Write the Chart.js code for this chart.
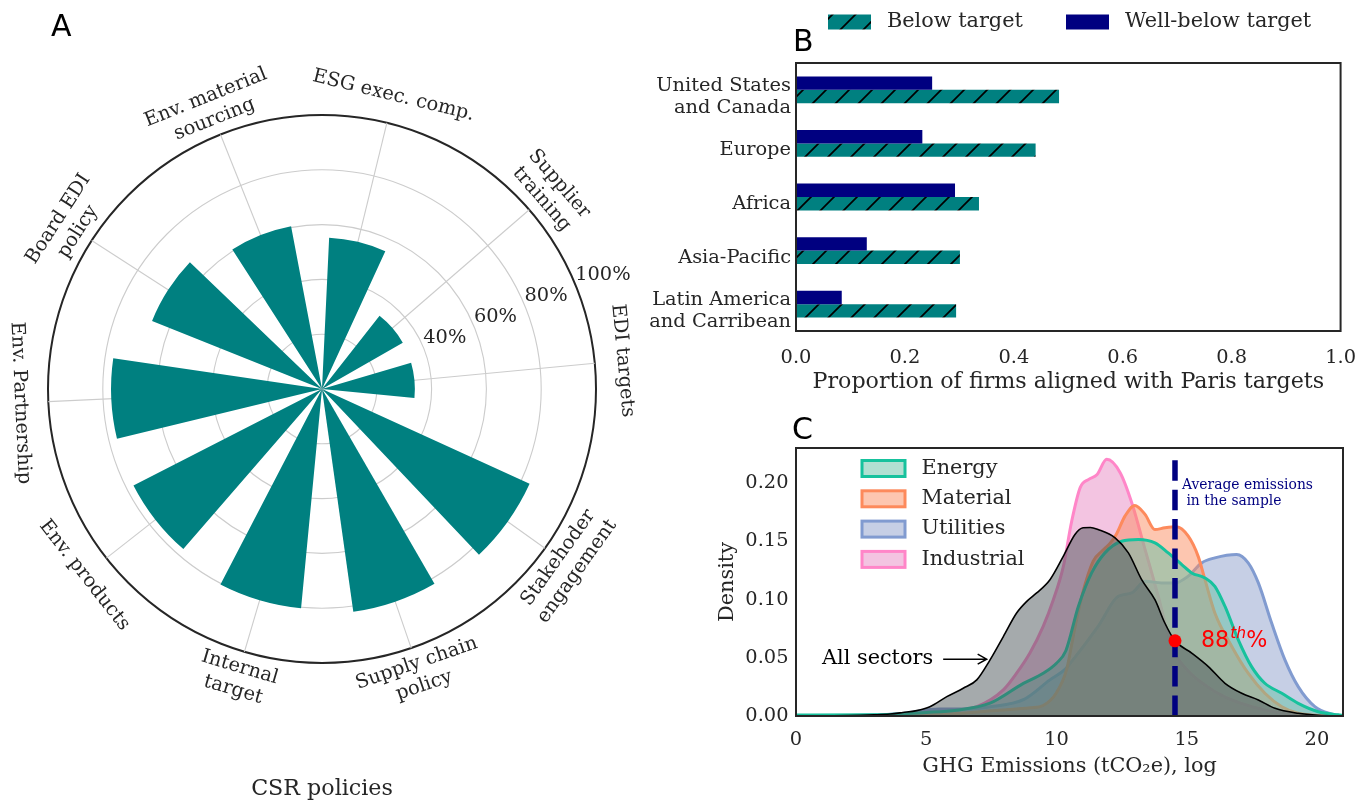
<!DOCTYPE html>
<html>
<head>
<meta charset="utf-8">
<script src="https://cdn.jsdelivr.net/npm/chart.js@4.4.1/dist/chart.umd.min.js"></script>
<style>
  html, body { margin: 0; padding: 0; background: #ffffff; }
  body { width: 1371px; height: 802px; position: relative; overflow: hidden; }
  canvas { position: absolute; }
  #polar { left: 0; top: 0; }
  #bars { left: 640px; top: 0; }
  #density { left: 640px; top: 410px; }
</style>
</head>
<body>
<canvas id="polar" width="660" height="802"></canvas>
<canvas id="bars" width="731" height="410"></canvas>
<canvas id="density" width="731" height="392"></canvas>
<script>
// ---------------- Panel A: adoption of CSR policies (% of firms) ----------------
const policyNames = [
  'EDI targets', 'Supplier\ntraining', 'ESG exec. comp.', 'Env. material\nsourcing',
  'Board EDI\npolicy', 'Env. Partnership', 'Env. products', 'Internal\ntarget',
  'Supply chain\npolicy', 'Stakehoder\nengagement'
];
const policyShare = [33.9, 34.0, 55.3, 60.5, 66.8, 77.0, 77.3, 80.4, 82.1, 83.3];
const ringValues = [20, 40, 60, 80, 100];
const ringLabels = ['', '40%', '60%', '80%', '100%'];

// ---------------- Panel B: alignment with Paris targets ----------------
const regions = ['United States\nand Canada', 'Europe', 'Africa', 'Asia-Pacific', 'Latin America\nand Carribean'];
const belowTarget = [0.483, 0.440, 0.336, 0.301, 0.294];
const wellBelowTarget = [0.250, 0.232, 0.292, 0.130, 0.084];

// ---------------- Panel C: GHG emission densities ----------------
const allSectorsX = [0, 2, 3, 3.61, 4.1, 4.63, 5.14, 5.79, 6.42, 6.94, 7.45, 7.96, 8.47, 8.86, 9.24, 9.75, 10.26, 10.71, 11.02, 11.3, 11.6, 12.25, 12.76, 13.27, 13.78, 14.16, 14.55, 15.19, 15.83, 16.47, 17.11, 17.75, 18.39, 19.28, 20.05, 21];
const allSectorsY = [0, 0.0003, 0.001, 0.0017, 0.003, 0.0046, 0.008, 0.0166, 0.0238, 0.031, 0.0482, 0.0682, 0.0884, 0.0984, 0.1056, 0.117, 0.137, 0.1558, 0.1615, 0.1618, 0.160, 0.1529, 0.140, 0.117, 0.0998, 0.0798, 0.0645, 0.054, 0.0424, 0.0281, 0.0195, 0.0138, 0.0066, 0.0023, 0.0006, 0];

const energyX = [0, 3, 5, 6.17, 7.45, 8.73, 9.49, 10.0, 10.36, 10.84, 11.35, 11.86, 12.5, 13.14, 13.78, 14.29, 14.81, 15.19, 15.70, 16.08, 16.47, 16.98, 17.49, 18.0, 18.65, 19.28, 20.05, 20.82, 21];
const energyY = [0.0008, 0.001, 0.003, 0.005, 0.011, 0.028, 0.0367, 0.0453, 0.056, 0.094, 0.1228, 0.14, 0.15, 0.1515, 0.1486, 0.14, 0.13, 0.1228, 0.1185, 0.1113, 0.094, 0.0654, 0.0424, 0.0281, 0.0195, 0.0109, 0.0037, 0.001, 0.0005];

const materialX = [0, 4, 6, 7.8, 9, 9.49, 10.0, 10.39, 10.7, 11.0, 11.41, 11.74, 12.07, 12.3, 12.63, 13.01, 13.40, 13.78, 14.16, 14.61, 15.06, 15.44, 15.70, 16.08, 16.73, 17.36, 18.0, 18.65, 19.28, 20, 21];
const materialY = [0, 0.0005, 0.002, 0.005, 0.007, 0.009, 0.02, 0.04, 0.075, 0.105, 0.133, 0.1414, 0.1486, 0.156, 0.1715, 0.1807, 0.173, 0.160, 0.1615, 0.1624, 0.1543, 0.137, 0.117, 0.0884, 0.0597, 0.0367, 0.0195, 0.008, 0.0023, 0.0005, 0];

const utilitiesX = [0, 4, 5.5, 6.5, 7.45, 8.73, 9.75, 10.33, 10.52, 11.6, 12.37, 12.89, 13.4, 14.04, 14.55, 15.06, 15.57, 16.08, 16.92, 17.36, 17.75, 18.26, 18.77, 19.28, 19.92, 20.56, 21];
const utilitiesY = [0, 0.002, 0.006, 0.006, 0.008, 0.014, 0.031, 0.04, 0.045, 0.077, 0.1027, 0.1056, 0.1156, 0.1142, 0.1142, 0.12, 0.1314, 0.1357, 0.1386, 0.1314, 0.1142, 0.0798, 0.0482, 0.0252, 0.008, 0.0017, 0];

const industrialX = [0, 3, 4, 5, 5.7, 6.94, 7.96, 8.47, 8.98, 9.49, 9.88, 10.26, 10.58, 10.91, 11.24, 11.55, 11.93, 12.44, 12.89, 13.40, 13.91, 14.42, 15.0, 15.8, 16.5, 17.5, 18.5, 19.5, 21];
const industrialY = [0, 0.0005, 0.001, 0.003, 0.004, 0.008, 0.0224, 0.0367, 0.054, 0.0769, 0.0998, 0.128, 0.1667, 0.196, 0.2031, 0.207, 0.2203, 0.209, 0.183, 0.143, 0.1027, 0.0597, 0.04, 0.025, 0.016, 0.008, 0.003, 0.001, 0];

const averageEmissions = 14.55;     // log tCO2e
const averageDensity = 0.0645;      // all-sectors density at the average
const averagePercentile = '88';

// ---------------- shared styling ----------------
const SERIF = "'DejaVu Serif', serif";
const SANS = "'DejaVu Sans', sans-serif";
const INK = '#262626';
const TEAL = '#008080';
const NAVY = '#000080';
Chart.defaults.font.family = SERIF;
Chart.defaults.color = INK;
Chart.defaults.animation = false;

function pairs(xs, ys) { return xs.map((x, i) => ({ x, y: ys[i] })); }

function panelLetter(ctx, letter, x, y) {
  ctx.save();
  ctx.font = '30px ' + SANS;
  ctx.fillStyle = '#000';
  ctx.textAlign = 'left';
  ctx.textBaseline = 'alphabetic';
  ctx.fillText(letter, x, y);
  ctx.restore();
}

function frame(ctx, area) {
  ctx.save();
  ctx.strokeStyle = INK;
  ctx.lineWidth = 2;
  ctx.strokeRect(area.left, area.top, area.right - area.left, area.bottom - area.top);
  ctx.restore();
}

// ================= Panel A =================
// spokes sit at the bar centres, counter-clockwise from the east
const spokeStart = 5.4, spokeStep = 35.45, barSpan = 22;
const spokeAngles = policyNames.map((_, i) => spokeStart + i * spokeStep);

// Chart.js sweeps clockwise, so walk the policies in reverse angular order
const sweep = [0].concat(policyNames.map((_, i) => i).slice(1).reverse());
const c0 = -spokeAngles[0];
const sweepCentres = sweep.map(k => c0 + (((-spokeAngles[k] - c0) % 360) + 360) % 360);
const arcValues = [], arcSpans = [], arcColors = [], arcLabels = [];
sweep.forEach((k, j) => {
  arcValues.push(policyShare[k]); arcSpans.push(barSpan); arcColors.push(TEAL); arcLabels.push(policyNames[k]);
  const next = j < sweep.length - 1 ? sweepCentres[j + 1] : sweepCentres[0] + 360;
  arcValues.push(0); arcSpans.push(next - sweepCentres[j] - barSpan); arcColors.push('rgba(0,0,0,0)'); arcLabels.push('');
});

const polarDecor = {
  id: 'polarDecor',
  beforeDatasetsDraw(chart) {
    const r = chart.scales.r, ctx = chart.ctx;
    const R = r.getDistanceFromCenterForValue(100);
    ctx.save();
    ctx.strokeStyle = '#cccccc';
    ctx.lineWidth = 1.1;
    spokeAngles.forEach(a => {
      const t = -a * Math.PI / 180;
      ctx.beginPath();
      ctx.moveTo(r.xCenter, r.yCenter);
      ctx.lineTo(r.xCenter + R * Math.cos(t), r.yCenter + R * Math.sin(t));
      ctx.stroke();
    });
    ctx.restore();
  },
  afterDraw(chart) {
    const r = chart.scales.r, ctx = chart.ctx;
    const R = r.getDistanceFromCenterForValue(100);
    ctx.save();
    ctx.fillStyle = INK;
    ctx.font = '19.4px ' + SERIF;
    // policy names around the rim, tangent to the circle
    const lh = 23.3;
    policyNames.forEach((name, i) => {
      const a = spokeAngles[i];
      const t = a * Math.PI / 180;
      const x = r.xCenter + (R + 28) * Math.cos(t);
      const y = r.yCenter - (R + 28) * Math.sin(t);
      const rot = a <= 180 ? a - 90 : a + 90;
      const lines = name.split('\n');
      ctx.save();
      ctx.translate(x, y);
      ctx.rotate(-rot * Math.PI / 180);
      ctx.textAlign = 'center';
      ctx.textBaseline = 'middle';
      lines.forEach((ln, li) => ctx.fillText(ln, 0, (li - (lines.length - 1) / 2) * lh));
      ctx.restore();
    });
    // radial tick labels along 22.5 degrees
    ctx.textAlign = 'left';
    ctx.textBaseline = 'bottom';
    const tl = 22.5 * Math.PI / 180;
    ringValues.forEach((v, i) => {
      if (!ringLabels[i]) return;
      const d = r.getDistanceFromCenterForValue(v);
      ctx.fillText(ringLabels[i], r.xCenter + d * Math.cos(tl), r.yCenter - d * Math.sin(tl) + 1);
    });
    // axis caption
    ctx.font = '22.2px ' + SERIF;
    ctx.textAlign = 'center';
    ctx.textBaseline = 'middle';
    ctx.fillText('CSR policies', r.xCenter, 789);
    ctx.restore();
    panelLetter(ctx, 'A', 51, 36);
  }
};

new Chart(document.getElementById('polar'), {
  type: 'polarArea',
  data: {
    labels: arcLabels,
    datasets: [{
      data: arcValues,
      backgroundColor: arcColors,
      borderWidth: 0,
      angle: ctx => arcSpans[ctx.dataIndex]
    }]
  },
  options: {
    responsive: false,
    devicePixelRatio: 1,
    animation: false,
    layout: { padding: { left: 48, top: 115, right: 64, bottom: 139 } },
    plugins: { legend: { display: false }, tooltip: { enabled: false } },
    scales: {
      r: {
        min: 0, max: 100,
        startAngle: sweepCentres[0] - barSpan / 2 + 90,
        ticks: { display: false, stepSize: 20 },
        grid: {
          circular: true,
          color: c => (c.tick && c.tick.value === 100) ? INK : '#cccccc',
          lineWidth: c => (c.tick && c.tick.value === 100) ? 2 : 1.1
        },
        angleLines: { display: false },
        pointLabels: { display: false }
      }
    }
  },
  plugins: [polarDecor]
});

// ================= Panel B =================
function makeHatch(ctx, bg, ink) {
  const s = 23;
  const c = document.createElement('canvas');
  c.width = s; c.height = s;
  const g = c.getContext('2d');
  g.fillStyle = bg;
  g.fillRect(0, 0, s, s);
  g.strokeStyle = ink;
  g.lineWidth = 1.7;
  g.beginPath();
  g.moveTo(-2, s + 2); g.lineTo(s + 2, -2);
  g.moveTo(-3, 3); g.lineTo(3, -3);
  g.moveTo(s - 3, s + 3); g.lineTo(s + 3, s - 3);
  g.stroke();
  return ctx.createPattern(c, 'repeat');
}
const barsCanvas = document.getElementById('bars');
const hatchTeal = makeHatch(barsCanvas.getContext('2d'), TEAL, '#000000');

const barDecor = {
  id: 'barDecor',
  afterDraw(chart) {
    const ctx = chart.ctx;
    frame(ctx, chart.chartArea);
    // legend across the top, listed Below → Well-below
    const items = chart.data.datasets.slice().reverse();
    const slots = [188, 426];
    ctx.save();
    ctx.font = '20.8px ' + SERIF;
    ctx.textAlign = 'left';
    ctx.textBaseline = 'middle';
    items.forEach((ds, i) => {
      ctx.fillStyle = ds.backgroundColor;
      ctx.fillRect(slots[i], 14.5, 43, 15);
      ctx.fillStyle = INK;
      ctx.fillText(ds.label, slots[i] + 59, 21.5);
    });
    ctx.restore();
    panelLetter(ctx, 'B', 153, 51);
  }
};

new Chart(barsCanvas, {
  type: 'bar',
  data: {
    labels: regions.map(r => r.split('\n')),
    datasets: [
      { label: 'Well-below target', data: wellBelowTarget, backgroundColor: NAVY, borderWidth: 0, categoryPercentage: 0.5, barPercentage: 1.0 },
      { label: 'Below target', data: belowTarget, backgroundColor: hatchTeal, borderWidth: 0, categoryPercentage: 0.5, barPercentage: 1.0 }
    ]
  },
  options: {
    indexAxis: 'y',
    responsive: false,
    devicePixelRatio: 1,
    animation: false,
    layout: { padding: { left: 0, top: 63, right: 28, bottom: 0 } },
    plugins: { legend: { display: false }, tooltip: { enabled: false } },
    scales: {
      x: {
        min: 0, max: 1,
        grid: { display: false, drawTicks: false },
        border: { display: false },
        ticks: { stepSize: 0.2, padding: 15, autoSkip: false, maxRotation: 0, font: { size: 19.4 }, callback: v => Number(v).toFixed(1) },
        title: { display: true, text: 'Proportion of firms aligned with Paris targets', font: { size: 22.2 }, padding: { top: 0, bottom: 14 } },
        afterFit: s => { s.height = 79; }
      },
      y: {
        grid: { display: false, drawTicks: false },
        border: { display: false },
        ticks: { padding: 5, labelOffset: 7, autoSkip: false, font: { size: 19.4, lineHeight: 1.12 } },
        afterFit: s => { s.width = 156; }
      }
    }
  },
  plugins: [barDecor]
});

// ================= Panel C =================
const sectorStyles = [
  { label: 'Energy',     line: '#17c29d', fill: 'rgba(102,194,165,0.5)', xs: energyX, ys: energyY },
  { label: 'Material',   line: '#fd8a5c', fill: 'rgba(252,141,98,0.5)',  xs: materialX, ys: materialY },
  { label: 'Utilities',  line: '#819bd0', fill: 'rgba(141,160,203,0.5)', xs: utilitiesX, ys: utilitiesY },
  { label: 'Industrial', line: '#ff86c8', fill: 'rgba(231,138,195,0.5)', xs: industrialX, ys: industrialY }
];

const densityDecor = {
  id: 'densityDecor',
  afterDraw(chart) {
    const ctx = chart.ctx, xs = chart.scales.x, ys = chart.scales.y;
    frame(ctx, chart.chartArea);
    ctx.save();
    // sector legend
    ctx.font = '20.8px ' + SERIF;
    ctx.textAlign = 'left';
    ctx.textBaseline = 'middle';
    sectorStyles.forEach((s, i) => {
      const yc = 58.5 + i * 30.3;
      ctx.fillStyle = '#ffffff';
      ctx.fillRect(222, yc - 8, 43, 16);
      ctx.fillStyle = s.fill;
      ctx.fillRect(222, yc - 8, 43, 16);
      ctx.strokeStyle = s.line;
      ctx.lineWidth = 3;
      ctx.strokeRect(222, yc - 8, 43, 16);
      ctx.fillStyle = INK;
      ctx.fillText(s.label, 281.5, yc);
    });
    // "All sectors" call-out with arrow
    ctx.fillStyle = '#000';
    ctx.textBaseline = 'alphabetic';
    ctx.fillText('All sectors', xs.getPixelForValue(1.0), ys.getPixelForValue(0.0448));
    const ax0 = xs.getPixelForValue(5.65), ax1 = xs.getPixelForValue(7.32), ay = ys.getPixelForValue(0.0488);
    ctx.strokeStyle = '#000';
    ctx.lineWidth = 1.5;
    ctx.beginPath();
    ctx.moveTo(ax0, ay); ctx.lineTo(ax1, ay);
    ctx.moveTo(ax1 - 9, ay - 5); ctx.lineTo(ax1, ay); ctx.lineTo(ax1 - 9, ay + 5);
    ctx.stroke();
    // average emissions note
    const lx = xs.getPixelForValue(averageEmissions);
    ctx.fillStyle = NAVY;
    ctx.font = '13.9px ' + SERIF;
    ctx.fillText('Average emissions', lx + 7, ys.getPixelForValue(0.195));
    ctx.fillText(' in the sample', lx + 7, ys.getPixelForValue(0.1807));
    // percentile of the average
    const py = ys.getPixelForValue(averageDensity) + 5.7;
    let px = lx + 26;
    ctx.fillStyle = '#ff0000';
    ctx.font = '22.2px ' + SANS;
    ctx.fillText(averagePercentile, px, py);
    px += ctx.measureText(averagePercentile).width + 1;
    ctx.font = 'italic 15.5px ' + SANS;
    ctx.fillText('th', px, py - 9);
    px += ctx.measureText('th').width;
    ctx.font = '22.2px ' + SANS;
    ctx.fillText('%', px, py);
    ctx.restore();
    panelLetter(ctx, 'C', 152, 29);
  }
};

const densitySets = [
  {
    label: 'average point', data: [{ x: averageEmissions, y: averageDensity }],
    showLine: false, pointRadius: 6.5, pointBackgroundColor: '#ff0000', pointBorderWidth: 0, fill: false
  },
  {
    label: 'average line', data: [{ x: averageEmissions, y: 0 }, { x: averageEmissions, y: 0.225 }],
    borderColor: NAVY, borderWidth: 5.5, borderDash: [20.5, 8.9], pointRadius: 0, fill: false
  },
  {
    label: 'All sectors', data: pairs(allSectorsX, allSectorsY),
    borderColor: '#000000', borderWidth: 1.6, backgroundColor: 'rgba(75,85,89,0.5)',
    fill: 'origin', pointRadius: 0, cubicInterpolationMode: 'monotone'
  }
].concat(sectorStyles.map(s => ({
  label: s.label, data: pairs(s.xs, s.ys),
  borderColor: s.line, borderWidth: 3, backgroundColor: s.fill,
  fill: 'origin', pointRadius: 0, cubicInterpolationMode: 'monotone'
})));

new Chart(document.getElementById('density'), {
  type: 'line',
  data: { datasets: densitySets },
  options: {
    responsive: false,
    devicePixelRatio: 1,
    animation: false,
    layout: { padding: { left: 0, top: 38, right: 28, bottom: 0 } },
    plugins: { legend: { display: false }, tooltip: { enabled: false } },
    scales: {
      x: {
        type: 'linear', min: 0, max: 21,
        grid: { display: false, drawTicks: false },
        border: { display: false },
        ticks: { stepSize: 5, includeBounds: false, padding: 12, maxRotation: 0, font: { size: 19.4 } },
        title: { display: true, text: 'GHG Emissions (tCO₂e), log', font: { size: 20.8 }, padding: { top: 0, bottom: 23 } },
        afterFit: s => { s.height = 86; }
      },
      y: {
        type: 'linear', min: 0, max: 0.23,
        grid: { display: false, drawTicks: false },
        border: { display: false },
        ticks: { stepSize: 0.05, includeBounds: false, padding: 7.5, font: { size: 19.4 }, callback: v => Number(v).toFixed(2) },
        title: { display: true, text: 'Density', font: { size: 20.8 }, padding: { top: 75, bottom: 0 } },
        afterFit: s => { s.width = 156; }
      }
    }
  },
  plugins: [densityDecor]
});
</script>
</body>
</html>
